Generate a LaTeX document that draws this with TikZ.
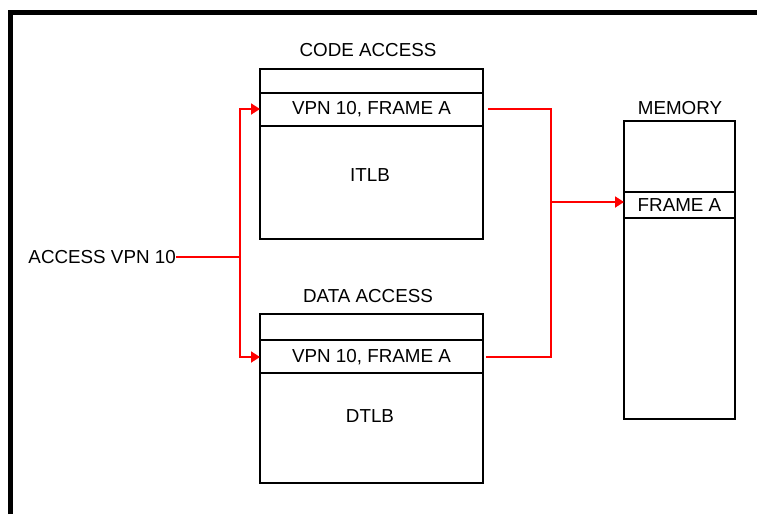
\documentclass[tikz,border=0pt]{standalone}
\usepackage{fontspec}
\setmainfont{Liberation Sans}
\usetikzlibrary{arrows.meta}
\begin{document}
\begin{tikzpicture}[x=1pt,y=-1pt,
  cell/.style={draw=black,line width=1.8pt,inner sep=0pt,outer sep=0pt,minimum width=#1},
  tlbcell/.style={cell=223pt},
  memcell/.style={cell=111pt},
  txt/.style={font=\fontsize{18.8}{22}\selectfont,inner sep=0pt},
  wire/.style={draw=red,line width=1.8pt},
  arr/.style={wire,-{Triangle[length=9pt,width=11pt]}},
  ]
\useasboundingbox (0,0) rectangle (757,514);
\fill[white] (0,0) rectangle (757,514);
% frame
\draw[line width=5pt] (10,514) -- (10,12.5) -- (757,12.5);
% ITLB
\node[tlbcell,minimum height=24pt] (itlbtop) at (371.5,81) {};
\node[tlbcell,minimum height=33pt,txt] (itlbrow) at (371.5,109) {VPN 10, FRAME A};
\node[tlbcell,minimum height=113pt] (itlbbody) at (371.5,182.5) {};
\node[txt] (itlbtxt) at (370,175) {ITLB};
\node[txt] (codeacc) at (368,50) {CODE ACCESS};
% DTLB
\node[tlbcell,minimum height=26pt] (dtlbtop) at (371.5,327) {};
\node[tlbcell,minimum height=33pt,txt] (dtlbrow) at (371.5,357) {VPN 10, FRAME A};
\node[tlbcell,minimum height=110pt] (dtlbbody) at (371.5,428) {};
\node[txt] (dtlbtxt) at (370,416) {DTLB};
\node[txt] (dataacc) at (368,296) {DATA ACCESS};
% Memory
\node[memcell,minimum height=71pt] (memtop) at (679.5,156.5) {};
\node[memcell,minimum height=26pt,txt] (memrow) at (679.5,205) {FRAME A};
\node[memcell,minimum height=201pt] (membody) at (679.5,318.5) {};
\node[txt] (memlbl) at (680,108) {MEMORY};
% access
\node[txt,anchor=east] (access) at (176,257) {ACCESS VPN 10};
\coordinate (split) at (240,257);
\coordinate (merge) at (551,202);
\draw[wire] (access.east) -- (split);
\draw[arr] (split) |- (itlbrow.west);
\draw[arr] (split) |- (dtlbrow.west);
\draw[wire] ([xshift=5pt]itlbrow.east) -| (merge);
\draw[wire] ([xshift=3pt]dtlbrow.east) -| (merge);
\draw[arr] (merge) -- (memrow.west |- merge);
\end{tikzpicture}
\end{document}
